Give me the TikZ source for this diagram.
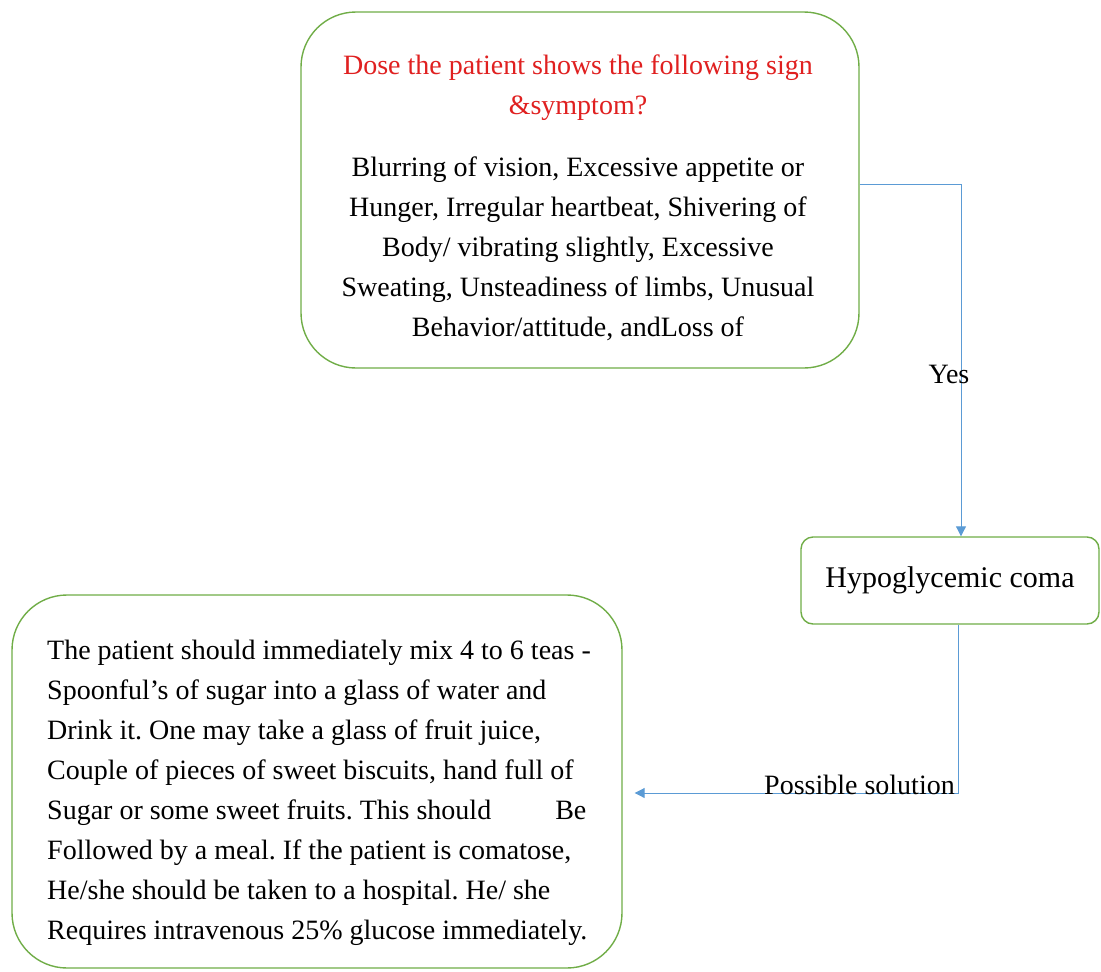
\documentclass[tikz,border=0pt]{standalone}
\usepackage{fontspec}
\setmainfont{Liberation Serif}
\usetikzlibrary{arrows.meta}
\definecolor{boxgreen}{RGB}{112,173,71}
\definecolor{linkblue}{RGB}{91,155,213}
\definecolor{titlered}{RGB}{224,32,32}
\frenchspacing
\begin{document}
\begin{tikzpicture}[x=1pt,y=-1pt,
  roundbox/.style={draw=boxgreen, line width=1.4pt, fill=white, inner sep=0pt},
  bodytext/.style={inner sep=0pt, font=\fontsize{28}{40}\selectfont},
  link/.style={draw=linkblue, line width=1pt, -{Triangle[length=10pt,width=10pt]}},
  linklabel/.style={inner sep=0pt, font=\fontsize{28}{32}\selectfont}]
\useasboundingbox (0,0) rectangle (1101,972);

% question box
\node[roundbox, rounded corners=55pt, minimum width=558pt, minimum height=356pt] (q) at (580,190) {};
\node[bodytext, anchor=north, align=center, text=titlered] (qtitle) at (578,55)
  {Dose the patient shows the following sign\\ \&symptom?};
\node[bodytext, anchor=north, align=center] (qbody) at (578,157)
  {Blurring of vision, Excessive appetite or\\
   Hunger, Irregular heartbeat, Shivering of\\
   Body/ vibrating slightly, Excessive\\
   Sweating, Unsteadiness of limbs, Unusual\\
   Behavior/attitude, andLoss of};

% diagnosis box
\node[roundbox, rounded corners=12pt, minimum width=298pt, minimum height=87pt] (coma) at (950,580.5) {};
\node[linklabel, anchor=base, font=\fontsize{30}{34}\selectfont] (comatext) at (950,587) {Hypoglycemic coma};

% solution box
\node[roundbox, rounded corners=55pt, minimum width=610pt, minimum height=373pt] (sol) at (317,781.5) {};
\node[bodytext, anchor=north west, align=left] (soltext) at (47,640)
  {The patient should immediately mix 4 to 6 teas -\\
   Spoonful's of sugar into a glass of water and\\
   Drink it. One may take a glass of fruit juice,\\
   Couple of pieces of sweet biscuits, hand full of\\
   Sugar or some sweet fruits. This should\hspace{64pt}Be\\
   Followed by a meal. If the patient is comatose,\\
   He/she should be taken to a hospital. He/ she\\
   Requires intravenous 25\% glucose immediately.};

% connectors
\coordinate (yesturn) at (961,184);
\draw[link] ([yshift=6pt]q.east) -- (yesturn) -- (coma.north -| yesturn);
\node[linklabel, anchor=base] (yes) at (949,383) {Yes};

\coordinate (solturn) at (958,793);
\draw[link, shorten >=12pt] (coma.south -| solturn) -- (solturn) -- (sol.east |- solturn);
\node[linklabel, anchor=base east] (possible) at (955,794) {Possible solution};
\end{tikzpicture}
\end{document}
